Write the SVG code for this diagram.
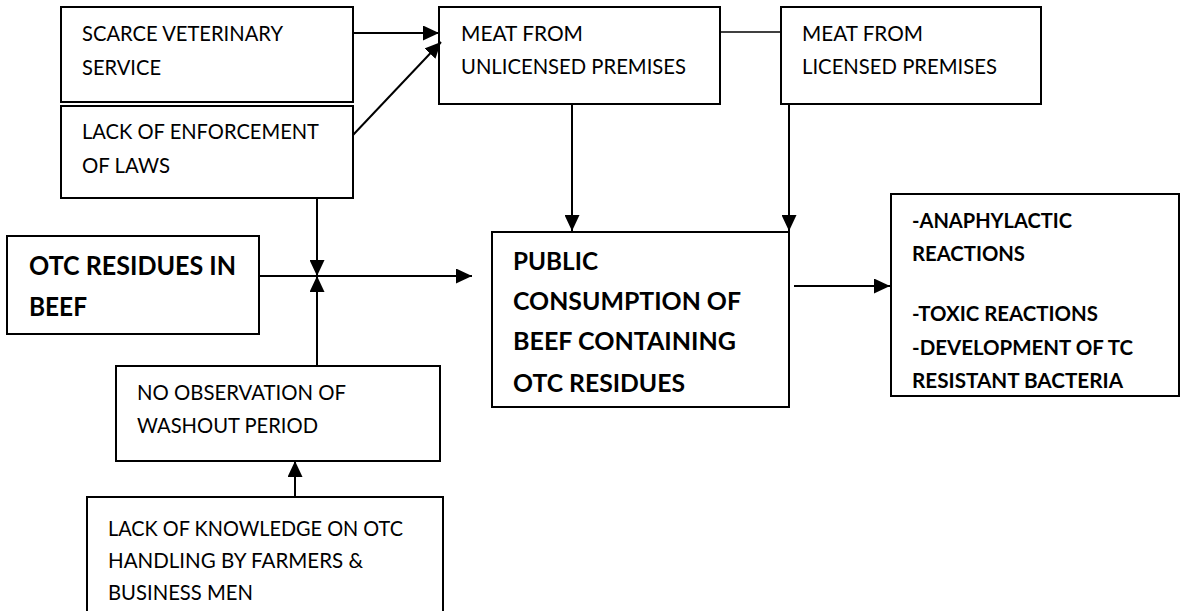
<svg xmlns="http://www.w3.org/2000/svg" width="1181" height="611" viewBox="0 0 1181 611">
<style>
.box{fill:#fff;stroke:#000;stroke-width:2}
.t{font-family:Lato,"Liberation Sans",sans-serif;font-size:22px;fill:#000}
.b{font-weight:bold}
.c{stroke:#000;stroke-width:2;fill:none}
</style>
<defs>
<marker id="ah" markerUnits="userSpaceOnUse" markerWidth="16" markerHeight="15" refX="16" refY="7.5" orient="auto">
<path d="M0,0 L16,7.5 L0,15 z" fill="#000"/>
</marker>
</defs>
<rect width="1181" height="611" fill="#fff"/>
<g id="n-scarce">
<rect class="box" x="61" y="7" width="292" height="95"/>
<text class="t" x="82" y="41" textLength="201" lengthAdjust="spacingAndGlyphs">SCARCE VETERINARY</text>
<text class="t" x="82" y="75" textLength="79" lengthAdjust="spacingAndGlyphs">SERVICE</text>
</g>
<g id="n-enforcement">
<rect class="box" x="61" y="106" width="292" height="92"/>
<text class="t" x="82" y="139" textLength="237" lengthAdjust="spacingAndGlyphs">LACK OF ENFORCEMENT</text>
<text class="t" x="82" y="173" textLength="88" lengthAdjust="spacingAndGlyphs">OF LAWS</text>
</g>
<g id="n-unlicensed">
<rect class="box" x="439" y="7" width="281" height="97"/>
<text class="t" x="461" y="41" textLength="122" lengthAdjust="spacingAndGlyphs">MEAT FROM</text>
<text class="t" x="461" y="74" textLength="225" lengthAdjust="spacingAndGlyphs">UNLICENSED PREMISES</text>
</g>
<g id="n-licensed">
<rect class="box" x="781" y="7" width="260" height="97"/>
<text class="t" x="802" y="41" textLength="121" lengthAdjust="spacingAndGlyphs">MEAT FROM</text>
<text class="t" x="802" y="74" textLength="195" lengthAdjust="spacingAndGlyphs">LICENSED PREMISES</text>
</g>
<g id="n-otc">
<rect class="box" x="7" y="236" width="252" height="98"/>
<text class="t b" x="29" y="275" style="font-size:26px" textLength="207" lengthAdjust="spacingAndGlyphs">OTC RESIDUES IN</text>
<text class="t b" x="29" y="316" style="font-size:26px" textLength="58" lengthAdjust="spacingAndGlyphs">BEEF</text>
</g>
<g id="n-public">
<rect class="box" x="492" y="232" width="297" height="175"/>
<text class="t b" x="513" y="270" style="font-size:25px" textLength="85" lengthAdjust="spacingAndGlyphs">PUBLIC</text>
<text class="t b" x="513" y="310" style="font-size:25px" textLength="228" lengthAdjust="spacingAndGlyphs">CONSUMPTION OF</text>
<text class="t b" x="513" y="350" style="font-size:25px" textLength="223" lengthAdjust="spacingAndGlyphs">BEEF CONTAINING</text>
<text class="t b" x="513" y="392" style="font-size:25px" textLength="172" lengthAdjust="spacingAndGlyphs">OTC RESIDUES</text>
</g>
<g id="n-effects">
<rect class="box" x="891" y="194" width="288" height="202"/>
<text class="t b" x="912" y="228" style="font-size:21px" textLength="160" lengthAdjust="spacingAndGlyphs">-ANAPHYLACTIC</text>
<text class="t b" x="912" y="261" style="font-size:21px" textLength="113" lengthAdjust="spacingAndGlyphs">REACTIONS</text>
<text class="t b" x="912" y="321" style="font-size:21px" textLength="186" lengthAdjust="spacingAndGlyphs">-TOXIC REACTIONS</text>
<text class="t b" x="912" y="355" style="font-size:21px" textLength="221" lengthAdjust="spacingAndGlyphs">-DEVELOPMENT OF TC</text>
<text class="t b" x="912" y="388" style="font-size:21px" textLength="211" lengthAdjust="spacingAndGlyphs">RESISTANT BACTERIA</text>
</g>
<g id="n-washout">
<rect class="box" x="116" y="366" width="324" height="95"/>
<text class="t" x="137" y="400" textLength="209" lengthAdjust="spacingAndGlyphs">NO OBSERVATION OF</text>
<text class="t" x="137" y="433" textLength="181" lengthAdjust="spacingAndGlyphs">WASHOUT PERIOD</text>
</g>
<g id="n-knowledge">
<rect class="box" x="87" y="497" width="356" height="120"/>
<text class="t" x="108" y="536" textLength="295" lengthAdjust="spacingAndGlyphs">LACK OF KNOWLEDGE ON OTC</text>
<text class="t" x="108" y="568" textLength="255" lengthAdjust="spacingAndGlyphs">HANDLING BY FARMERS &amp;</text>
<text class="t" x="108" y="600" textLength="145" lengthAdjust="spacingAndGlyphs">BUSINESS MEN</text>
</g>
<g id="connectors">
<line class="c" x1="353" y1="33" x2="439" y2="33" marker-end="url(#ah)"/>
<line class="c" x1="353" y1="135" x2="441" y2="42" marker-end="url(#ah)"/>
<line class="c" x1="720" y1="32" x2="781" y2="32" style="stroke-width:1.5"/>
<line class="c" x1="572" y1="104" x2="572" y2="231" marker-end="url(#ah)"/>
<line class="c" x1="789" y1="104" x2="789" y2="231" marker-end="url(#ah)"/>
<line class="c" x1="317" y1="198" x2="317" y2="276" marker-end="url(#ah)"/>
<line class="c" x1="317" y1="366" x2="317" y2="276" marker-end="url(#ah)"/>
<line class="c" x1="259" y1="276" x2="472" y2="276" marker-end="url(#ah)"/>
<line class="c" x1="794" y1="286" x2="890" y2="286" marker-end="url(#ah)"/>
<line class="c" x1="295" y1="497" x2="295" y2="461" marker-end="url(#ah)"/>
</g>
</svg>
